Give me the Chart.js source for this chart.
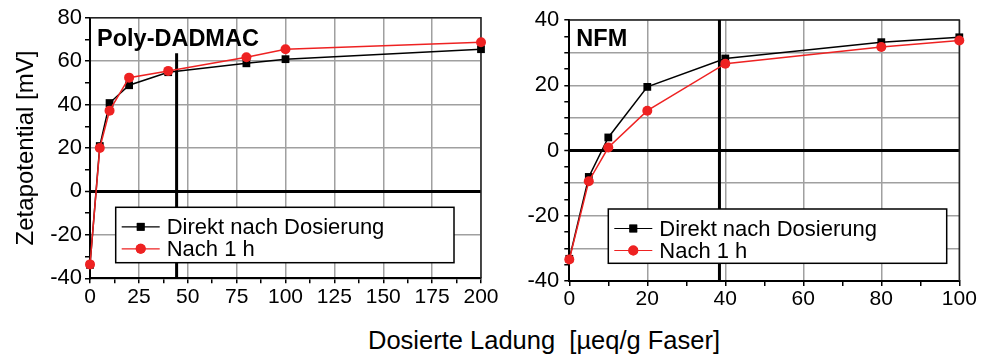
<!DOCTYPE html>
<html>
<head>
<meta charset="utf-8">
<script src="https://cdn.jsdelivr.net/npm/chart.js@4.4.0/dist/chart.umd.min.js"></script>
<style>
  body { margin: 0; background: #fff; width: 988px; height: 356px; position: relative; overflow: hidden; font-family: "Liberation Sans", Arial, sans-serif; }
  canvas { position: absolute; top: 0; }
  #polyChart { left: 0; }
  #nfmChart { left: 500px; }
  #xTitle { position: absolute; left: 368px; top: 328px; font-size: 25.5px; line-height: 25px; white-space: pre; color: #000; }
</style>
</head>
<body>
<canvas id="polyChart" width="500" height="320"></canvas>
<canvas id="nfmChart" width="488" height="320"></canvas>
<div id="xTitle">Dosierte Ladung  [µeq/g Faser]</div>
<script>
const seriesLabels = ['Direkt nach Dosierung', 'Nach 1 h'];

// Poly-DADMAC
const dosePoly = [0, 5, 10, 20, 40, 80, 100, 200];
const polyDirekt = [-33.8, 20.9, 40.7, 48.9, 54.9, 59.0, 60.9, 65.5];
const polyNach1h = [-33.6, 20.0, 37.2, 52.4, 55.5, 61.8, 65.5, 68.7];
const polyMarkX = 44.3;
const polyMarkY = [63.6, -40];
const polyXRange = [0, 200];
const polyYRange = [-40, 80];

// NFM
const doseNfm = [0, 5, 10, 20, 40, 80, 100];
const nfmDirekt = [-33.2, -8.1, 4.0, 19.5, 28.2, 33.2, 34.7];
const nfmNach1h = [-33.4, -9.4, 0.9, 12.2, 26.6, 31.7, 33.7];
const nfmMarkX = 38.5;
const nfmMarkY = [40, -40];
const nfmXRange = [0, 100];
const nfmYRange = [-40, 40];

const FONT = '"Liberation Sans", Arial, sans-serif';
const GRID = '#a0a0a0';

function pts(xs, ys) {
    return xs.map((x, i) => ({ x: x, y: ys[i] }));
}

// frame on top/right, panel name and boxed legend inside the plot
const panelPlugin = {
    id: 'panel',
    beforeDatasetsDraw(chart, args, opts) {
        const { ctx, chartArea: a } = chart;
        ctx.save();
        ctx.strokeStyle = '#222';
        ctx.lineWidth = 1.5;
        ctx.beginPath();
        ctx.moveTo(a.left, a.top);
        ctx.lineTo(a.right, a.top);
        ctx.lineTo(a.right, a.bottom);
        ctx.stroke();
        ctx.restore();
    },
    afterDatasetsDraw(chart, args, opts) {
        const { ctx, chartArea: a } = chart;
        ctx.save();
        ctx.fillStyle = '#000';
        ctx.font = 'bold 23.5px ' + FONT;
        ctx.textBaseline = 'alphabetic';
        ctx.fillText(opts.name, a.left + 7, opts.nameY);

        const b = opts.box;
        ctx.fillStyle = '#fff';
        ctx.fillRect(b.x, b.y, b.w, b.h);
        ctx.strokeStyle = '#000';
        ctx.lineWidth = 1.5;
        ctx.strokeRect(b.x, b.y, b.w, b.h);

        ctx.font = '22px ' + FONT;
        ctx.textBaseline = 'middle';
        const rows = [b.y + 19.5, b.y + 41.5];
        seriesLabels.forEach((label, i) => {
            const d = chart.data.datasets.find(ds => ds.label === label);
            const y = rows[i];
            ctx.strokeStyle = d.borderColor;
            ctx.lineWidth = 1.2;
            ctx.beginPath();
            ctx.moveTo(b.x + 6, y);
            ctx.lineTo(b.x + 44, y);
            ctx.stroke();
            ctx.fillStyle = d.backgroundColor;
            Chart.helpers.drawPoint(ctx, { pointStyle: d.pointStyle, radius: d.pointRadius, borderWidth: 0 }, b.x + 25, y);
            ctx.fill();
            ctx.fillStyle = '#000';
            ctx.fillText(label, b.x + 51, y + 1);
        });
        ctx.restore();
    }
};

function makeChart(id, o) {
    const ctx = document.getElementById(id).getContext('2d');
    return new Chart(ctx, {
        type: 'line',
        data: {
            datasets: [
                {
                    label: seriesLabels[1],
                    data: pts(o.dose, o.nach),
                    borderColor: '#ee2222',
                    backgroundColor: '#ee2222',
                    borderWidth: 1.5,
                    pointStyle: 'circle',
                    pointRadius: 5,
                    pointBorderWidth: 0,
                    order: 0,
                    clip: false
                },
                {
                    label: seriesLabels[0],
                    data: pts(o.dose, o.direkt),
                    borderColor: '#000',
                    backgroundColor: '#000',
                    borderWidth: 1.5,
                    pointStyle: 'rect',
                    pointRadius: 5.5,
                    pointBorderWidth: 0,
                    order: 1,
                    clip: false
                },
                {
                    data: o.markY.map(y => ({ x: o.markX, y: y })),
                    borderColor: '#000',
                    borderWidth: 3,
                    pointRadius: 0,
                    order: 2
                }
            ]
        },
        options: {
            responsive: false,
            animation: false,
            layout: { padding: { top: o.padTop, right: o.padRight, left: 0, bottom: 0 } },
            plugins: {
                legend: { display: false },
                tooltip: { enabled: false },
                panel: { name: o.name, nameY: o.nameY, box: o.box }
            },
            scales: {
                x: {
                    type: 'linear',
                    min: o.xRange[0],
                    max: o.xRange[1],
                    afterFit: s => { s.height = o.xAxisH; },
                    border: { color: '#000', width: 2 },
                    grid: {
                        color: c => (c.tick.value % o.xMajor === 0 && c.tick.value !== o.xRange[0]) ? GRID : 'rgba(0,0,0,0)',
                        lineWidth: 1.5,
                        tickColor: '#000',
                        tickWidth: 1.5,
                        tickLength: 5
                    },
                    ticks: {
                        stepSize: o.xStep,
                        autoSkip: false,
                        maxRotation: 0,
                        minRotation: 0,
                        padding: 1,
                        color: '#000',
                        font: { family: FONT, size: 21 },
                        callback: v => (v % o.xMajor === 0 ? String(v) : '')
                    }
                },
                y: {
                    type: 'linear',
                    min: o.yRange[0],
                    max: o.yRange[1],
                    afterFit: s => { s.width = o.yAxisW; },
                    border: { color: '#000', width: 2 },
                    grid: {
                        color: c => c.tick.value === 0 ? '#000' : (c.tick.value % o.yGrid === 0 ? GRID : 'rgba(0,0,0,0)'),
                        lineWidth: c => c.tick.value === 0 ? 3 : 1.5,
                        tickColor: '#000',
                        tickWidth: 1.5,
                        tickLength: 5
                    },
                    ticks: {
                        stepSize: o.yStep,
                        autoSkip: false,
                        padding: o.yPad,
                        color: '#000',
                        font: { family: FONT, size: 22 },
                        callback: v => (v % 20 === 0 ? String(v) : '')
                    },
                    title: {
                        display: !!o.yTitle,
                        text: o.yTitle,
                        color: '#000',
                        font: { family: FONT, size: 24 },
                        padding: { top: 12, bottom: 0 }
                    }
                }
            }
        },
        plugins: [panelPlugin]
    });
}

makeChart('polyChart', {
    name: 'Poly-DADMAC', nameY: 46,
    dose: dosePoly, direkt: polyDirekt, nach: polyNach1h,
    markX: polyMarkX, markY: polyMarkY,
    xRange: polyXRange, yRange: polyYRange,
    xStep: 12.5, xMajor: 25, yStep: 10, yGrid: 20, yPad: 3,
    padTop: 17.7, padRight: 19, yAxisW: 90, xAxisH: 41.7,
    yTitle: 'Zetapotential [mV]',
    box: { x: 115.7, y: 207.3, w: 338.3, h: 55.4 }
});

makeChart('nfmChart', {
    name: 'NFM', nameY: 46,
    dose: doseNfm, direkt: nfmDirekt, nach: nfmNach1h,
    markX: nfmMarkX, markY: nfmMarkY,
    xRange: nfmXRange, yRange: nfmYRange,
    xStep: 10, xMajor: 20, yStep: 5, yGrid: 10, yPad: 5,
    padTop: 20, padRight: 28.7, yAxisW: 69.3, xAxisH: 39,
    yTitle: '',
    box: { x: 108.3, y: 209, w: 338.4, h: 54.3 }
});
</script>
</body>
</html>
